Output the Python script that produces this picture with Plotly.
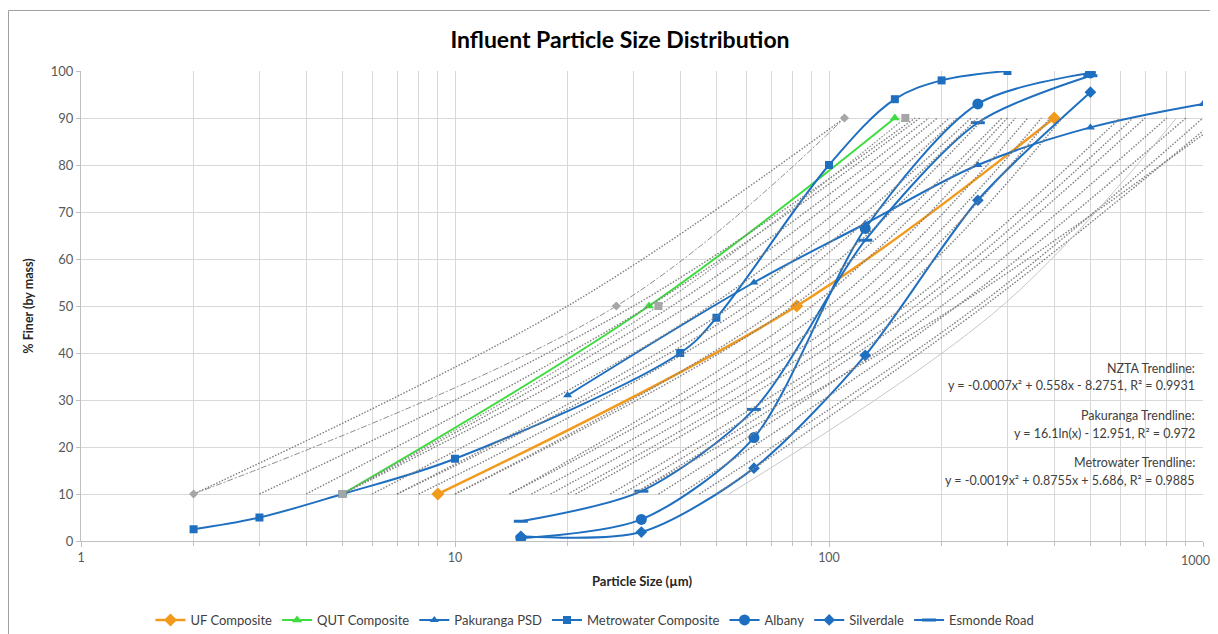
import plotly.graph_objects as go

# ---------------- data ----------------
UF_X = [9, 82, 400]
UF_Y = [10, 50, 90]

QUT_X = [5, 33, 150]
QUT_Y = [10, 50, 90]

PAK_X = [20, 63, 125, 250, 500, 1000]
PAK_Y = [31, 55, 67.5, 80, 88, 93]

METRO_X = [2, 3, 5, 10, 40, 50, 100, 150, 200, 300]
METRO_Y = [2.5, 5, 10, 17.5, 40, 47.5, 80, 94, 98, 100]

SITE_X = [15, 31.5, 63, 125, 250, 500]
ALBANY_Y = [0.6, 4.6, 22, 66.5, 93, 99.6]
SILVERDALE_Y = [1.0, 1.9, 15.5, 39.5, 72.5, 95.5]
ESMONDE_Y = [4.2, 10.6, 28, 64, 89, 99]

# grey reference curves (d10, d50, d90)
GREY_A_X = [2, 27, 110]
GREY_B_X = [5, 35, 160]
GREY_SOLID_X = [54, 290, 850]
GREY_LEVELS = [10, 50, 90]

GREY_D10 = [2, 3, 4, 5, 5, 6, 7, 7, 8, 10, 10, 14, 14, 16, 18, 20, 21, 26, 28, 30, 35, 40, 45, 50, 30]
GREY_D50 = [20, 30, 33, 38, 42, 48, 55, 60, 65, 75, 80, 90, 100, 110, 120, 130, 140, 160, 170, 180, 200, 220, 250, 260, 220]
GREY_D90 = [110, 170, 175, 185, 195, 210, 220, 240, 250, 260, 290, 300, 315, 340, 370, 390, 420, 600, 650, 700, 800, 900, 1000, 1100, 1150]

X_TICKS = [1, 10, 100, 1000]
X_TICK_LABELS = ["1", "10", "100", "1000"]
X_MINOR = [m * d for d in (1, 10, 100) for m in range(2, 10)]

TRENDLINE_TEXT = [
    ("NZTA Trendline:", 368),
    ("y = -0.0007x² + 0.558x - 8.2751, R² = 0.9931", 385.5),
    ("Pakuranga Trendline:", 415.5),
    ("y = 16.1ln(x) - 12.951, R² = 0.972", 433),
    ("Metrowater Trendline:", 462.5),
    ("y = -0.0019x² + 0.8755x + 5.686, R² = 0.9885", 480),
]

# ---------------- styling ----------------
BLUE = "#1f6fc0"
ORANGE = "#f29a1e"
GREEN = "#3fdc3f"
FONT = "Lato"

OFF = 8  # page body margin of the browser
W, H = 1218 - OFF, 634 - OFF
# plot area in reference-screenshot pixels
PX0, PX1, PY0, PY1 = 81, 1203, 71, 541
L, T = PX0 - OFF, PY0 - OFF
R = W - (PX1 - OFF)
B = H - (PY1 - OFF)
PW = PX1 - PX0
PH = PY1 - PY0


def paper_x(px):
    return (px - PX0) / PW


def paper_y(py):
    return (PY1 - py) / PH


fig = go.Figure()


def add_series(name, x, y, color, symbol, size, width=2.0, mline=None, smoothing=1.0):
    marker = dict(symbol=symbol, size=size, color=color)
    if mline:
        marker["line"] = dict(color=color, width=mline)
    fig.add_trace(go.Scatter(
        x=x, y=y, name=name, mode="lines+markers",
        line=dict(color=color, width=width, shape="spline", smoothing=smoothing),
        marker=marker,
    ))


add_series("UF Composite", UF_X, UF_Y, ORANGE, "diamond", 10, width=2.5)
add_series("QUT Composite", QUT_X, QUT_Y, GREEN, "triangle-up", 9, width=2.0)
add_series("Pakuranga PSD", PAK_X, PAK_Y, BLUE, "triangle-up", 8)
add_series("Metrowater Composite", METRO_X, METRO_Y, BLUE, "square", 8)
add_series("Albany", SITE_X, ALBANY_Y, BLUE, "circle", 11, smoothing=0.8)
add_series("Silverdale", SITE_X, SILVERDALE_Y, BLUE, "diamond", 9, smoothing=0.8)
add_series("Esmonde Road", SITE_X, ESMONDE_Y, BLUE, "line-ew", 10, mline=3, smoothing=0.8)

# grey dotted reference curves
for d10, d50, d90 in zip(GREY_D10, GREY_D50, GREY_D90):
    fig.add_trace(go.Scatter(
        x=[d10, d50, d90], y=GREY_LEVELS, mode="lines", showlegend=False,
        hoverinfo="skip",
        line=dict(color="#7f7f7f", width=1.4, dash="1.5px,1.6px", shape="spline", smoothing=1),
    ))

fig.add_trace(go.Scatter(
    x=GREY_SOLID_X, y=GREY_LEVELS, mode="lines", showlegend=False, hoverinfo="skip",
    line=dict(color="#c8c8c8", width=1, shape="spline", smoothing=1),
))
fig.add_trace(go.Scatter(
    x=GREY_A_X, y=GREY_LEVELS, mode="lines+markers", showlegend=False, hoverinfo="skip",
    line=dict(color="#8c8c8c", width=1, dash="6px,2px,2px,2px", shape="spline", smoothing=1),
    marker=dict(symbol="diamond", size=7, color="#a6a6a6"),
))
fig.add_trace(go.Scatter(
    x=GREY_B_X, y=GREY_LEVELS, mode="lines+markers", showlegend=False, hoverinfo="skip",
    line=dict(color="#8c8c8c", width=1.2, dash="1.5px,1.6px", shape="spline", smoothing=1),
    marker=dict(symbol="square", size=8, color="#a6a6a6"),
))

# trendline annotations
for txt, py in TRENDLINE_TEXT:
    fig.add_annotation(
        x=paper_x(1197), y=paper_y(py), xref="paper", yref="paper",
        text=txt, showarrow=False, xanchor="right", yanchor="middle",
        font=dict(family=FONT, size=12.5, color="#404040"),
    )

# last x tick label drawn as an annotation so it stays inside the page edge
fig.add_annotation(
    x=1.0, y=0, xref="paper", yref="paper", yshift=-19, xshift=9,
    text=X_TICK_LABELS[-1], showarrow=False, xanchor="right", yanchor="middle",
    font=dict(family=FONT, size=12.5, color="#595959"),
)

# outer chart border
fig.add_shape(
    type="rect", xref="paper", yref="paper",
    x0=paper_x(OFF + 0.5), x1=paper_x(1260),
    y0=paper_y(700), y1=paper_y(10.5),
    line=dict(color="#a0a0a0", width=1), layer="below",
)

fig.update_layout(
    width=W, height=H,
    margin=dict(l=L, r=R, t=T, b=B, autoexpand=False),
    paper_bgcolor="white", plot_bgcolor="white",
    font=dict(family=FONT, size=12, color="#595959"),
    title=dict(
        text="<b>Influent Particle Size Distribution</b>",
        x=(620 - OFF) / W, xref="container", xanchor="center",
        y=1 - (40 - OFF) / H, yref="container", yanchor="middle",
        font=dict(family=FONT, size=23, color="#000000"),
    ),
    showlegend=True,
    legend=dict(
        orientation="h", xref="container", yref="container",
        x=(595 - OFF) / W, xanchor="center", y=1 - (620 - OFF) / H, yanchor="middle",
        font=dict(family=FONT, size=13, color="#404040"),
        itemwidth=30, tracegroupgap=0,
    ),
)

fig.update_xaxes(
    type="log", range=[0, 3], automargin=False,
    tickvals=X_TICKS, ticktext=X_TICK_LABELS[:-1] + [""],
    showgrid=True, gridcolor="#d9d9d9", gridwidth=1,
    ticks="outside", ticklen=5, tickcolor="#bfbfbf",
    minor=dict(tickvals=X_MINOR, showgrid=True, gridcolor="#d9d9d9", gridwidth=1,
               ticks="outside", ticklen=4, tickcolor="#bfbfbf"),
    showline=True, linecolor="#bfbfbf", linewidth=1,
    zeroline=False,
    tickfont=dict(family=FONT, size=12.5, color="#595959"),
    title=dict(text="<b>Particle Size (µm)</b>", standoff=12,
               font=dict(family=FONT, size=13, color="#262626")),
)
fig.update_yaxes(
    range=[0, 100], dtick=10, automargin=False,
    showgrid=True, gridcolor="#d9d9d9", gridwidth=1,
    ticks="outside", ticklen=4, tickcolor="#bfbfbf",
    showline=True, linecolor="#bfbfbf", linewidth=1,
    zeroline=False,
    tickfont=dict(family=FONT, size=13, color="#595959"),
    title=dict(text="<b>% Finer (by mass)</b>", standoff=14,
               font=dict(family=FONT, size=12.5, color="#262626")),
)

fig.write_html("out.html")
